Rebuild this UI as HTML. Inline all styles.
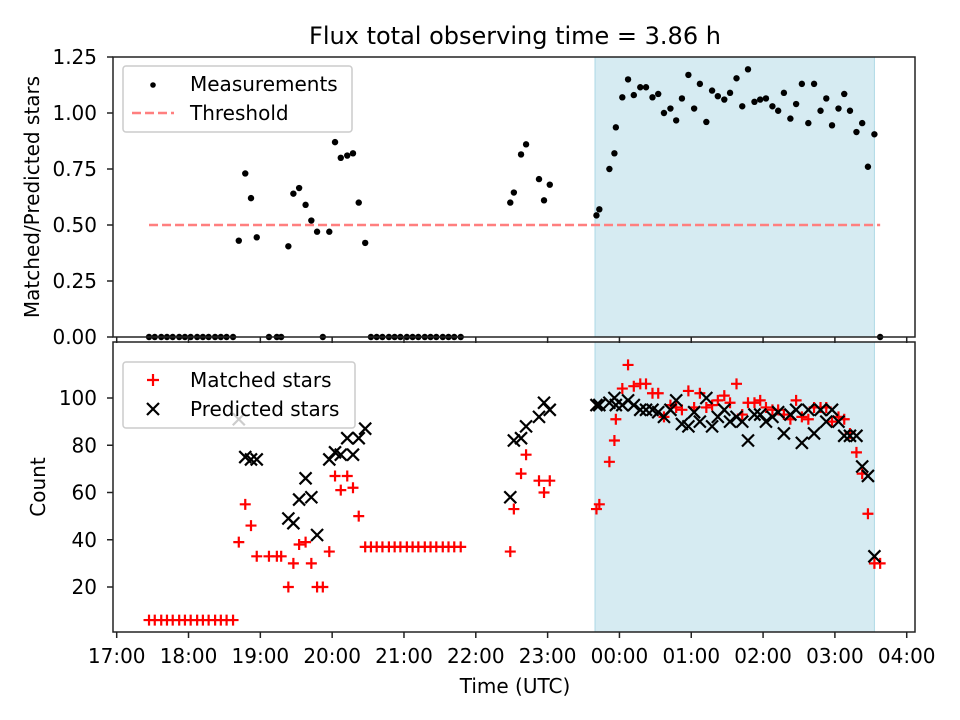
<!DOCTYPE html>
<html><head><meta charset="utf-8"><style>
body{margin:0;background:#fff;}
svg{display:block;font-family:"DejaVu Sans","Liberation Sans",sans-serif;}
</style></head><body>
<svg id="chart" width="960" height="720" viewBox="0 0 960 720" xmlns="http://www.w3.org/2000/svg"></svg>
<script>
// hours since 17:00
const times = [0.45,0.53,0.62,0.70,0.78,0.87,0.95,1.03,1.12,1.20,1.28,1.37,1.45,1.53,1.62,
1.70,1.79,1.87,1.95,2.12,2.23,2.29,2.39,2.46,2.54,2.63,2.71,2.79,2.87,2.96,3.04,3.12,3.21,3.29,3.37,3.46,
3.54,3.62,3.70,3.79,3.87,3.95,4.04,4.12,4.20,4.29,4.37,4.45,4.54,4.62,4.70,4.79,
5.48,5.53,5.63,5.70,5.88,5.95,6.03,6.68,6.72,
6.86,6.93,6.95,7.04,7.12,7.20,7.29,7.37,7.46,7.54,7.62,7.71,7.79,7.87,7.96,8.04,8.12,8.21,8.29,8.37,8.46,8.54,8.63,8.71,8.79,8.88,8.96,9.04,9.13,9.21,9.29,9.38,9.46,9.54,9.63,9.71,9.80,9.88,9.96,10.05,10.13,10.21,10.30,10.38,10.46,10.55,10.63];
const ratios = [0,0,0,0,0,0,0,0,0,0,0,0,0,0,0,
0.43,0.73,0.62,0.445,0,0,0,0.405,0.64,0.665,0.59,0.52,0.47,0,0.47,0.87,0.80,0.81,0.82,0.60,0.42,
0,0,0,0,0,0,0,0,0,0,0,0,0,0,0,0,
0.60,0.645,0.815,0.86,0.705,0.61,0.68,0.543,0.57,
0.75,0.82,0.936,1.07,1.15,1.08,1.115,1.115,1.07,1.085,1.0,1.02,0.967,1.065,1.17,1.02,1.13,0.96,1.10,1.075,1.06,1.09,1.155,1.03,1.195,1.05,1.06,1.065,1.03,1.01,1.09,0.975,1.04,1.13,0.955,1.13,1.01,1.065,0.945,1.02,1.085,1.01,0.915,0.955,0.76,0.905,0];
const matched = [6,6,6,6,6,6,6,6,6,6,6,6,6,6,6,
39,55,46,33,33,33,33,20,30,38,39,30,20,20,35,67,61,67,62,50,37,
37,37,37,37,37,37,37,37,37,37,37,37,37,37,37,37,
35,53,68,76,65,60,65,53,55,
73,82,91,104,114,105,106,106,102,102,92,97,96,95,103,96,102,96,97,99,101,98,106,93,98,98,99,96,95,95,93,91,99,92,91,96,96,96,90,92,91,85,77,68,51,30,30];
const predicted = [null,null,null,null,null,null,null,null,null,null,null,null,null,null,null,
91,75,74,74,null,null,null,49,47,57,66,58,42,null,74,77,76,83,76,83,87,
null,null,null,null,null,null,null,null,null,null,null,null,null,null,null,null,
58,82,83,88,92,98,95,97,97,
98,100,97,97,99,97,95,95,95,94,92,95,99,89,88,94,90,100,88,92,95,90,92,90,82,93,93,90,92,94,85,93,95,81,95,85,95,90,95,90,84,84,84,71,67,33,null];
const xTickLabels = ["17:00","18:00","19:00","20:00","21:00","22:00","23:00","00:00","01:00","02:00","03:00","04:00"];
const topYTicks = [0,0.25,0.5,0.75,1.0,1.25];
const botYTicks = [20,40,60,80,100];
const threshold = 0.5;
const thresholdRange = [0.45,10.63];
const shadeRange = [6.66,10.55];

const NS="http://www.w3.org/2000/svg";
const svg=document.getElementById('chart');
function el(tag,attrs,parent){const e=document.createElementNS(NS,tag);for(const k in attrs)e.setAttribute(k,attrs[k]);(parent||svg).appendChild(e);return e;}
const L=113,R=915,T1=57,B1=337,T2=342,B2=632;
const FS=20;
const xs=h=>116.7+h*71.82;
const y1=v=>B1-v*224;
const y2=v=>587-(v-20)*2.3625;

let t=el('text',{x:515,y:44,'font-size':24,'text-anchor':'middle',fill:'#000'});t.textContent='Flux total observing time = 3.86 h';



[[T1,B1],[T2,B2]].forEach((p,i)=>{
 const r=el('rect',{x:xs(shadeRange[0]),y:p[0],width:xs(shadeRange[1])-xs(shadeRange[0]),height:p[1]-p[0],fill:'#add8e6','fill-opacity':0.5,stroke:'#add8e6','stroke-width':1});
 
 
});

const th=el('line',{x1:xs(thresholdRange[0]),x2:xs(thresholdRange[1]),y1:y1(threshold),y2:y1(threshold),stroke:'#ff7f7f','stroke-width':2.5,'stroke-dasharray':'9,4'});



times.forEach((h,i)=>{
 const c=el('circle',{cx:xs(h),cy:y1(ratios[i]),r:3.2,fill:'#000'});
 
 
});
times.forEach((h,i)=>{
 const x=xs(h),y=y2(matched[i]);
 const g=el('path',{d:`M${x-5.5},${y}H${x+5.5}M${x},${y-5.5}V${y+5.5}`,stroke:'#ff0000','stroke-width':2.2,fill:'none'});
 
 
});
times.forEach((h,i)=>{
 if(predicted[i]===null)return;
 const x=xs(h),y=y2(predicted[i]);
 const g=el('path',{d:`M${x-6},${y-6}L${x+6},${y+6}M${x-6},${y+6}L${x+6},${y-6}`,stroke:'#000','stroke-width':2.2,fill:'none'});
 
 
});

[[T1,B1],[T2,B2]].forEach((p,i)=>{
 const r=el('rect',{x:L,y:p[0],width:R-L,height:p[1]-p[0],fill:'none',stroke:'#222','stroke-width':1.5});
 
 
});
xTickLabels.forEach((lab,i)=>{
 const x=xs(i);
 el('line',{x1:x,x2:x,y1:B1,y2:B1+6,stroke:'#222','stroke-width':1.5});
 el('line',{x1:x,x2:x,y1:B2,y2:B2+6,stroke:'#222','stroke-width':1.5});
 const tx=el('text',{x:x,y:663,'font-size':FS,'text-anchor':'middle'});tx.textContent=lab;
 
 
});
topYTicks.forEach(v=>{
 const y=y1(v);
 el('line',{x1:L-6,x2:L,y1:y,y2:y,stroke:'#222','stroke-width':1.5});
 const tx=el('text',{x:97,y:y+7,'font-size':FS,'text-anchor':'end'});tx.textContent=v.toFixed(2);
 
 
});
botYTicks.forEach(v=>{
 const y=y2(v);
 el('line',{x1:L-6,x2:L,y1:y,y2:y,stroke:'#222','stroke-width':1.5});
 const tx=el('text',{x:97,y:y+7,'font-size':FS,'text-anchor':'end'});tx.textContent=v;
 
 
});
t=el('text',{x:515,y:693,'font-size':FS,'text-anchor':'middle'});t.textContent='Time (UTC)';


t=el('text',{x:0,y:0,'font-size':FS,'text-anchor':'middle',transform:'translate(39,197) rotate(-90)'});t.textContent='Matched/Predicted stars';


t=el('text',{x:0,y:0,'font-size':FS,'text-anchor':'middle',transform:'translate(45,487) rotate(-90)'});t.textContent='Count';



let lg=el('rect',{x:123,y:66,width:229,height:66,rx:3,fill:'#fff','fill-opacity':0.8,stroke:'#ccc','stroke-width':1.5});


el('circle',{cx:153,cy:85,r:2.8,fill:'#000'});
el('line',{x1:132,x2:174,y1:113,y2:113,stroke:'#ff7f7f','stroke-width':2.5,'stroke-dasharray':'9,4'});
t=el('text',{x:190,y:91,'font-size':FS});t.textContent='Measurements';


t=el('text',{x:190,y:120,'font-size':FS});t.textContent='Threshold';



lg=el('rect',{x:123,y:362,width:232,height:66,rx:3,fill:'#fff','fill-opacity':0.8,stroke:'#ccc','stroke-width':1.5});


el('path',{d:'M147,380H159M153,374V386',stroke:'#f00','stroke-width':2.2});
el('path',{d:'M147,403L159,415M147,415L159,403',stroke:'#000','stroke-width':2.2});
t=el('text',{x:190,y:387,'font-size':FS});t.textContent='Matched stars';


t=el('text',{x:190,y:416,'font-size':FS});t.textContent='Predicted stars';


</script>
</body></html>
